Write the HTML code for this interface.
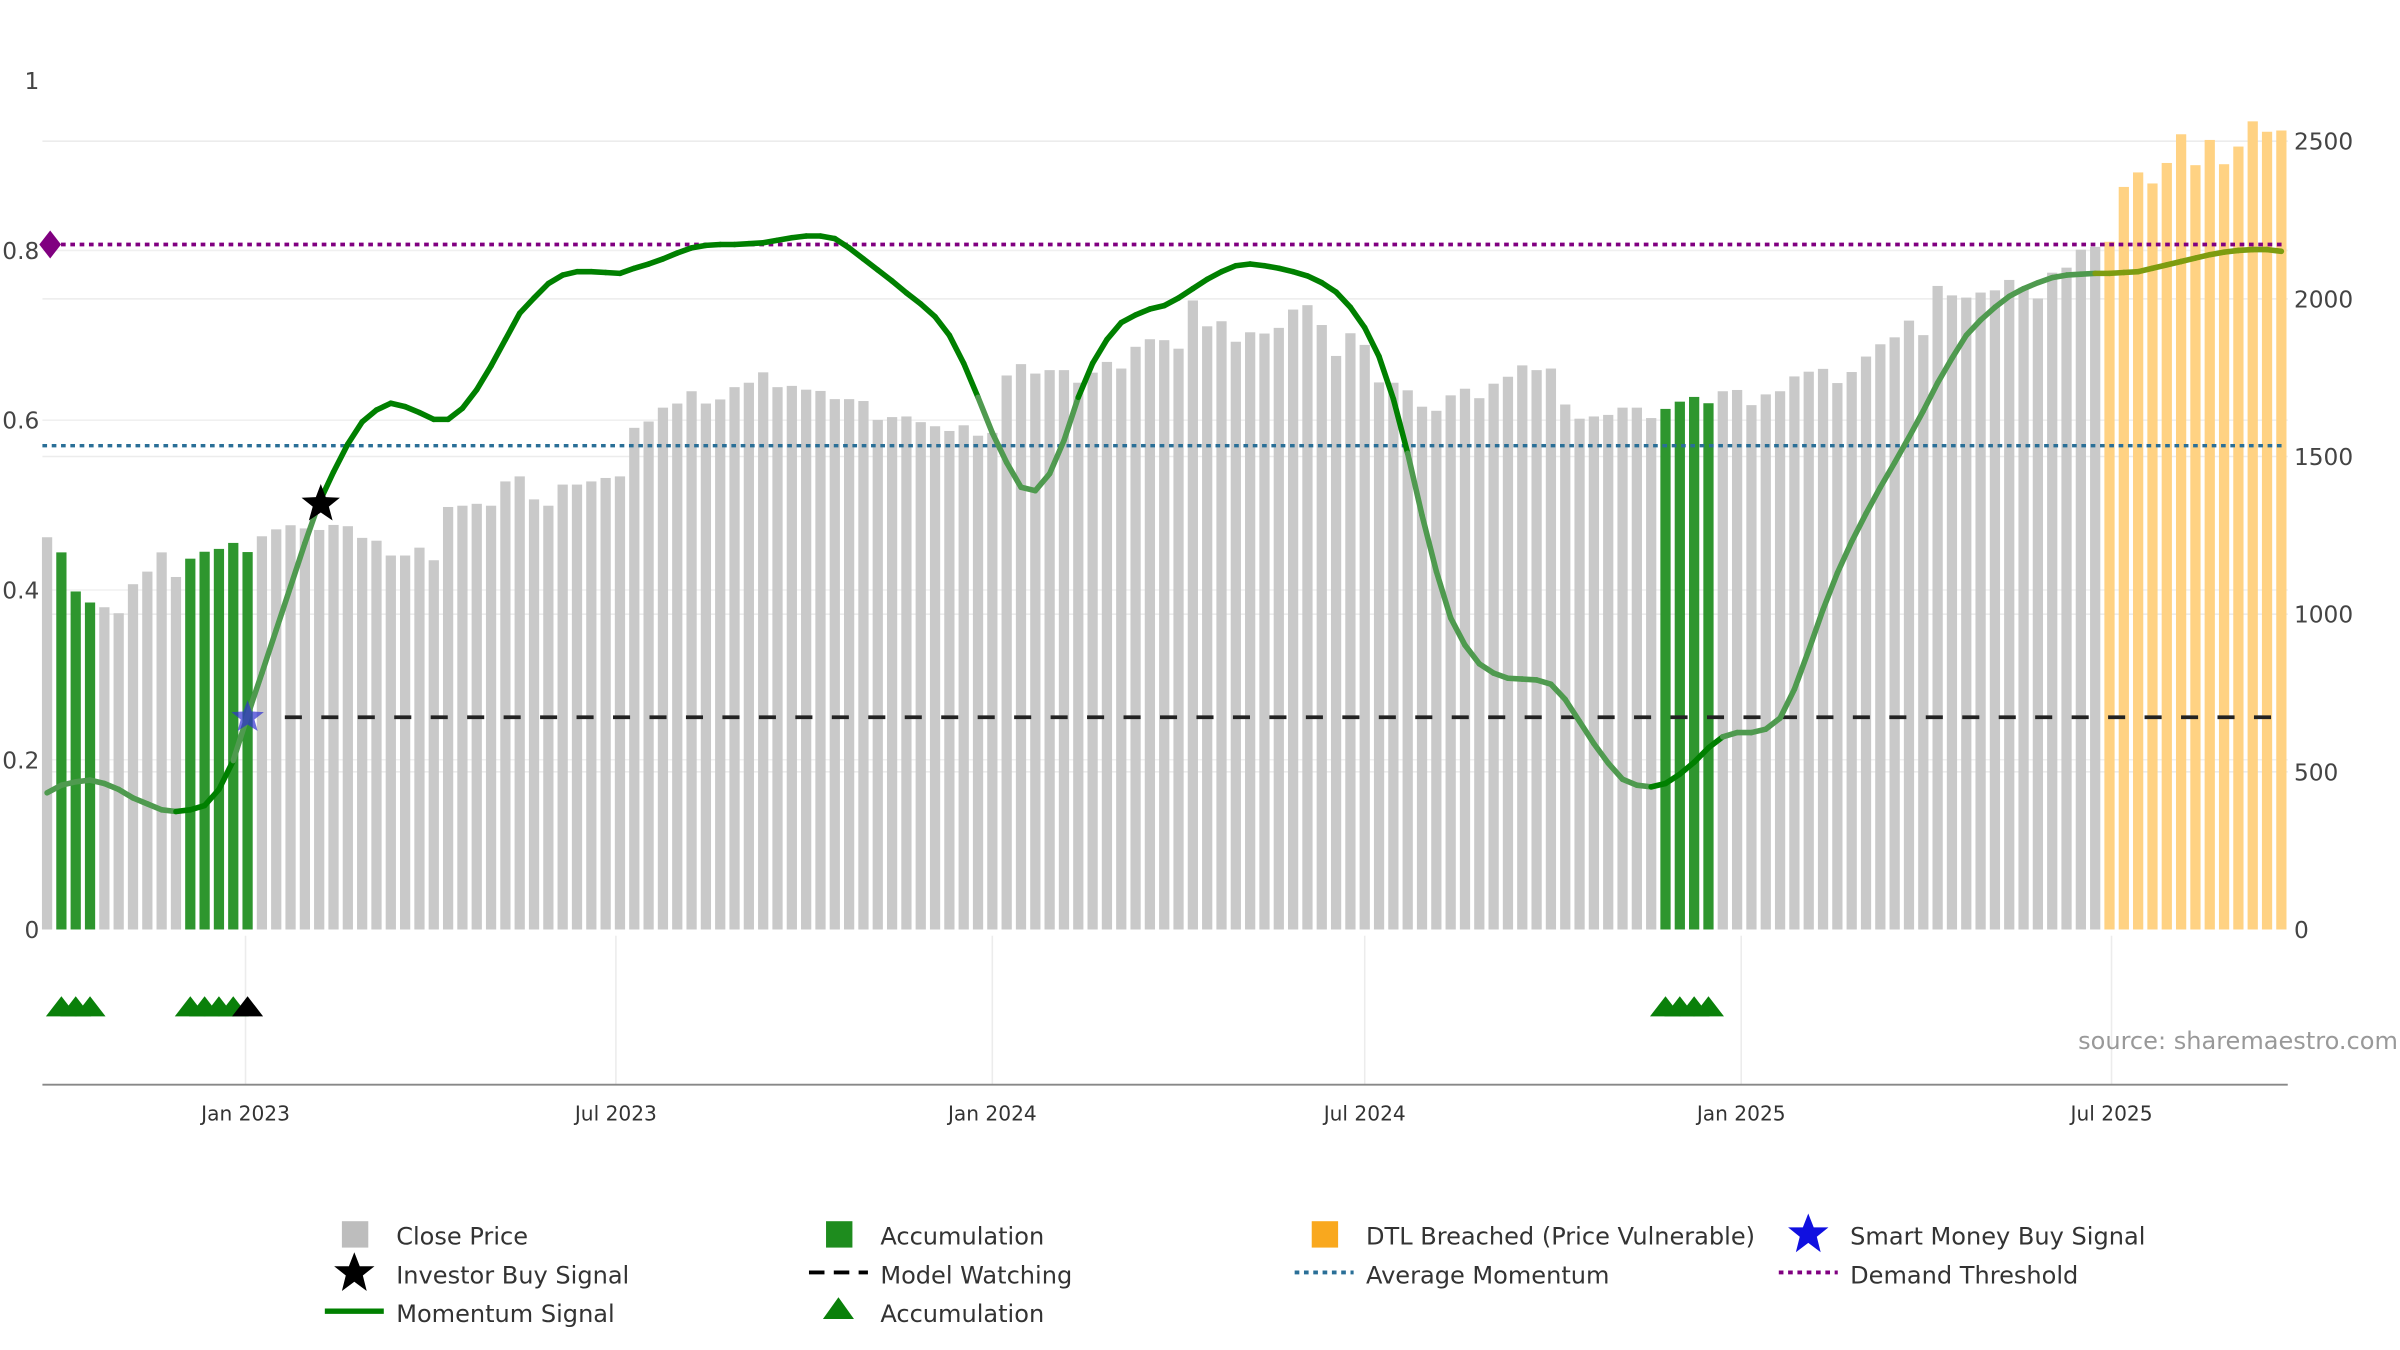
<!DOCTYPE html>
<html><head><meta charset="utf-8"><style>
html,body{margin:0;padding:0;background:#fff;}
svg{display:block;font-family:"DejaVu Sans","Liberation Sans",sans-serif;}
</style></head><body>
<svg id="chart" width="2400" height="1350" viewBox="0 0 1546 870" xmlns="http://www.w3.org/2000/svg">
<g id="grid"></g>
<g id="bars"></g>
<g id="lines"></g>
<g id="mom"></g>
<g id="marks"></g>
<g id="axes"></g>
<text x="1545" y="676" text-anchor="end" font-size="15.5" fill="#999">source: sharemaestro.com</text>
<g id="legend" font-size="15.5" fill="#333">
  <g><rect x="220" y="787" width="17" height="17" fill="#bdbdbd"/><text x="255" y="802">Close Price</text></g>
  <g><rect x="532" y="787" width="17" height="17" fill="#1e8c1e"/><text x="567" y="802">Accumulation</text></g>
  <g><rect x="845" y="787" width="17" height="17" fill="#f9a81e"/><text x="880" y="802">DTL Breached (Price Vulnerable)</text></g>
  <g><polygon points="1165,782 1168.5,791 1178,791 1170.5,797 1173,807 1165,801 1157,807 1159.5,797 1152,791 1161.5,791" fill="#1010e0"/><text x="1192" y="802">Smart Money Buy Signal</text></g>
  <g><polygon points="228,807 231.5,816 241,816 233.5,822 236,832 228,826 220,832 222.5,822 215,816 224.5,816" fill="#000"/><text x="255" y="827">Investor Buy Signal</text></g>
  <g><line x1="521" y1="820" x2="559" y2="820" stroke="#000" stroke-width="2.5" stroke-dasharray="10 6"/><text x="567" y="827">Model Watching</text></g>
  <g><line x1="834" y1="820" x2="872" y2="820" stroke="#2a6f97" stroke-width="2.5" stroke-dasharray="3 3"/><text x="880" y="827">Average Momentum</text></g>
  <g><line x1="1146" y1="820" x2="1184" y2="820" stroke="#800080" stroke-width="2.5" stroke-dasharray="3 3"/><text x="1192" y="827">Demand Threshold</text></g>
  <g><line x1="209" y1="845" x2="247" y2="845" stroke="#008000" stroke-width="3.5"/><text x="255" y="852">Momentum Signal</text></g>
  <g><polygon points="540,836 550,850 530,850" fill="#0a800a"/><text x="567" y="852">Accumulation</text></g>
</g>
</svg>
<script>
const closePrices = [1244,1196,1072,1037,1022,1003,1095,1135,1196,1118,1176,1198,1207,1226,1197,1247,1269,1282,1272,1267,1283,1279,1242,1233,1186,1186,1211,1171,1340,1344,1350,1344,1421,1437,1364,1344,1411,1411,1421,1432,1437,1591,1611,
1655,1668,1707,1668,1681,1720,1734,1767,1720,1724,1712,1708,1682,1682,1676,1616,1625,1627,1609,1596,1581,1599,1566,1575,1757,1793,1763,1774,1774,1734,1766,1800,1779,1848,1872,1869,1842,1995,1913,1929,1864,
1894,1890,1908,1966,1980,1917,1819,1891,1854,1735,1734,1710,1658,1645,1694,1715,1685,1731,1753,1789,1774,1779,1665,1620,1627,1632,1655,1655,1622,1651,1674,1689,1669,1707,1711,1663,1697,1707,1754,1769,1778,
1733,1768,1817,1856,1878,1931,1885,2041,2011,2004,2020,2027,2060,2036,2001,2083,2099,2156,2165,
2181,2355,2401,2366,2431,2522,2424,2504,2427,2483,2563,2530,2534];
const momentum = [.161,.170,.174,.176,.172,.165,.155,.148,.141,.139,.141,.146,.165,.199,.252,.302,.353,.404,.455,.503,.539,.572,.598,.612,.620,.616,.609,.601,.601,.614,.636,.664,.695,.726,.744,.761,.771,.775,.775,.774,.773,.779,.784,.790,.797,.803,.806,.807,.807,.808,.809,.812,.815,.817,.817,.814,.803,.790,.777,.764,.750,.737,.722,.700,.667,.627,.585,.550,.521,.517,.537,.576,.627,.667,.695,.715,.724,.731,.735,.744,.755,.766,.775,.782,.784,.782,.779,.775,.770,.762,.751,.733,.709,.675,.625,.561,.488,.422,.367,.335,.313,.302,.296,.295,.294,.289,.271,.245,.219,.196,.177,.170,.168,.172,.183,.197,.214,.227,.232,.232,.236,.249,.283,.329,.377,.420,.457,.490,.521,.550,.580,.611,.644,.673,.700,.718,.733,.746,.755,.762,.768,.771,.772,.773,.773,.774,.775,.779,.783,.787,.791,.795,.798,.800,.801,.801,.799];
const accumBars = [1,2,3,10,11,12,13,14,113,114,115,116];
const accumMarkers = [1,2,3,10,11,12,13,113,114,115,116];
const investorMarkerIdx = [14];
const dtlStart = 144;
const smartMoneyIdx = 14;
const investorBuyIdx = 19;
const modelWatching = 0.25;
const avgMomentum = 0.57;
const demandThreshold = 0.807;
const leftTicks = [0,0.2,0.4,0.6,0.8,1];
const leftTickLabels = ["0","0.2","0.4","0.6","0.8","1"];
const rightTicks = [0,500,1000,1500,2000,2500];
const dateTicks = [97,278,462,644,828,1009];
const dateTickLabels = ["Jan 2023","Jul 2023","Jan 2024","Jul 2024","Jan 2025","Jul 2025"];

const NS="http://www.w3.org/2000/svg";
const X0=30, STEP=9.23, PXDAY=STEP/7, Y0=599;
function xOf(i){return X0+i*STEP;}
function xDay(d){return X0+d*PXDAY;}
function yR(v){return Y0-v*508/2500;}
function yL(v){return Y0-v*547;}
function mk(tag,attrs,parent){const e=document.createElementNS(NS,tag);for(const k in attrs)e.setAttribute(k,attrs[k]);parent.appendChild(e);return e;}
function star(cx,cy,r){let p=[];for(let k=0;k<10;k++){const a=-Math.PI/2+k*Math.PI/5;const rr=k%2?r*0.42:r;p.push((cx+rr*Math.cos(a)).toFixed(1)+","+(cy+rr*Math.sin(a)).toFixed(1));}return p.join(" ");}
const G=id=>document.getElementById(id);

// grid
rightTicks.forEach(v=>{if(v>0){const l=mk('line',{x1:27,x2:1474,y1:yR(v),y2:yR(v),stroke:'#ececec','stroke-width':1},G('grid'));

}});
leftTicks.forEach(v=>{if(v>0&&v<1){const l=mk('line',{x1:27,x2:1474,y1:yL(v),y2:yL(v),stroke:'#f0f0f0','stroke-width':1},G('grid'));

}});
dateTicks.forEach(d=>{const l=mk('line',{x1:xDay(d),x2:xDay(d),y1:603,y2:699,stroke:'#ececec','stroke-width':1},G('grid'));

});

// bars
closePrices.forEach((v,i)=>{
  let fill='#c9c9c9';
  if(accumBars.includes(i))fill='#2e962e';
  else if(i>=dtlStart)fill='#ffd283';
  const r=mk('rect',{x:xOf(i)-3.3,y:yR(v),width:6.6,height:Y0-yR(v),fill:fill},G('bars'));
  
  
});

// reference lines
let l1=mk('line',{x1:27,x2:1470,y1:yL(demandThreshold),y2:yL(demandThreshold),stroke:'#800080','stroke-width':2.4,'stroke-dasharray':'3 3'},G('lines'));


let dm=mk('polygon',{points:`32,${yL(demandThreshold)-9} 39,${yL(demandThreshold)} 32,${yL(demandThreshold)+9} 25,${yL(demandThreshold)}`,fill:'#800080'},G('lines'));


let l2=mk('line',{x1:27,x2:1470,y1:yL(avgMomentum),y2:yL(avgMomentum),stroke:'#2a6f97','stroke-width':2.2,'stroke-dasharray':'3 3'},G('lines'));


let l3=mk('line',{x1:xOf(smartMoneyIdx)+24,x2:1470,y1:yL(modelWatching),y2:yL(modelWatching),stroke:'#222','stroke-width':2.4,'stroke-dasharray':'11 12.5'},G('lines'));



// momentum
const lightRanges=[[0,9],[13,19],[65,72],[95,112],[117,143]];
for(let i=0;i<momentum.length-1;i++){
  let col='#008000';
  if(lightRanges.some(r=>i>=r[0]&&i<r[1]))col='#4f9a4f';
  if(i>=dtlStart-1)col='#7e9c10';
  const s=mk('line',{x1:xOf(i),y1:yL(momentum[i]),x2:xOf(i+1),y2:yL(momentum[i+1]),stroke:col,'stroke-width':3.6,'stroke-linecap':'round'},G('mom'));
  
  
}

// markers
let sm=mk('polygon',{points:star(xOf(smartMoneyIdx),yL(modelWatching),11),fill:'#3030d0','fill-opacity':0.7},G('marks'));


let ib=mk('polygon',{points:star(xOf(investorBuyIdx)+1,yL(momentum[investorBuyIdx])+1,13),fill:'#000'},G('marks'));


accumMarkers.forEach(i=>{const x=xOf(i);const t=mk('polygon',{points:`${x},642 ${x+10},655 ${x-10},655`,fill:'#0a800a'},G('marks'));

});
investorMarkerIdx.forEach(i=>{const x=xOf(i);const t=mk('polygon',{points:`${x},642 ${x+10},655 ${x-10},655`,fill:'#000'},G('marks'));

});

// axes
const ax=G('axes');
let base=mk('line',{x1:27,x2:1474,y1:699,y2:699,stroke:'#888','stroke-width':1.2},ax);


dateTicks.forEach((d,k)=>{const t=mk('text',{x:xDay(d),y:722,'text-anchor':'middle','font-size':13,fill:'#333'},ax);t.textContent=dateTickLabels[k];

});
leftTicks.forEach((v,k)=>{const t=mk('text',{x:25,y:yL(v)+5.5,'text-anchor':'end','font-size':15,fill:'#444'},ax);t.textContent=leftTickLabels[k];

});
rightTicks.forEach(v=>{const t=mk('text',{x:1478,y:yR(v)+5.5,'font-size':15,fill:'#444'},ax);t.textContent=String(v);

});
</script>
</body></html>
